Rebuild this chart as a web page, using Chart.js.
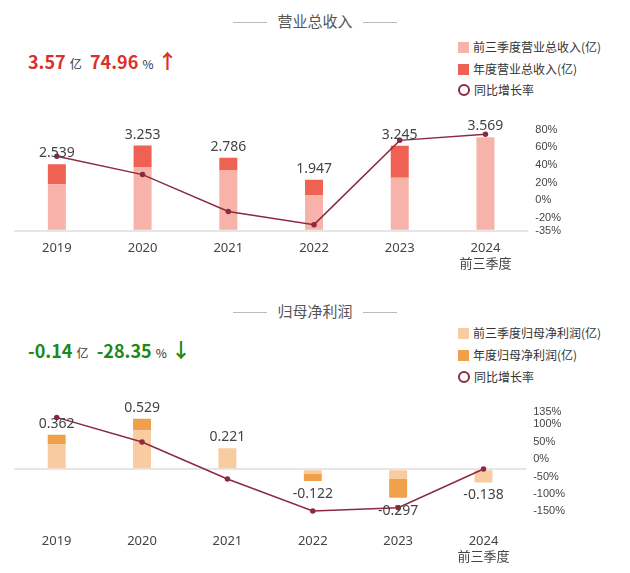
<!DOCTYPE html>
<html><head><meta charset="utf-8">
<script src="https://cdn.jsdelivr.net/npm/chart.js@4"></script>
<style>
body{margin:0;width:630px;height:573px;background:#fff;font-family:"Noto Sans CJK SC","Noto Sans",sans-serif;position:relative;overflow:hidden}
.t{position:absolute;white-space:nowrap}
.title{font-size:15px;color:#555;width:630px;text-align:center}
.title span{display:inline-block;width:34px;border-top:1px solid #bbb;vertical-align:middle;margin:0 10px}
.big{font-size:18px;font-weight:bold}
.sm{font-size:12px;font-weight:normal;color:#333}
.lg{font-size:12px;color:#333}
.lg i{display:inline-block;width:11px;height:11px;vertical-align:-1px;margin-right:4px}
.lg b{display:inline-block;width:8px;height:8px;border:2px solid #8b2a40;border-radius:50%;vertical-align:-1px;margin-right:4px}
.box{position:absolute;left:0;width:630px}
</style></head><body>
<div class="t title" style="top:10px"><span></span>营业总收入<span></span></div>
<div class="t big" style="left:28px;top:46px;color:#d9302c">3.57 <span class="sm">亿</span>&nbsp; 74.96 <span class="sm">%</span> <span style="font-size:20px">↑</span></div>
<div class="t lg" style="left:458px;top:38px"><i style="background:#f7b3aa"></i>前三季度营业总收入(亿)</div>
<div class="t lg" style="left:458px;top:60px"><i style="background:#ef6253"></i>年度营业总收入(亿)</div>
<div class="t lg" style="left:458px;top:81px"><b></b>同比增长率</div>

<div class="t title" style="top:300px"><span></span>归母净利润<span></span></div>
<div class="t big" style="left:28px;top:335px;color:#1a8a1a">-0.14 <span class="sm">亿</span>&nbsp; -28.35 <span class="sm">%</span> <span style="font-size:20px">↓</span></div>
<div class="t lg" style="left:458px;top:324px"><i style="background:#f9cba0"></i>前三季度归母净利润(亿)</div>
<div class="t lg" style="left:458px;top:346px"><i style="background:#f0a04b"></i>年度归母净利润(亿)</div>
<div class="t lg" style="left:458px;top:368px"><b></b>同比增长率</div>

<div class="box" style="top:100px;height:180px"><canvas id="rev"></canvas></div>
<div class="box" style="top:385px;height:188px"><canvas id="np"></canvas></div>
<script>
// 数据
const years = ['2019', '2020', '2021', '2022', '2023', ['2024', '前三季度']];
const revQ3 = [1.78, 2.44, 2.30, 1.37, 2.03, 3.569];
const revTotal = [2.539, 3.253, 2.786, 1.947, 3.245, null];
const revGrowth = [50, 29, -13, -28, 68, 74.96];
const npQ3 = [0.26, 0.41, 0.221, -0.05, -0.10, -0.138];
const npTotal = [0.362, 0.529, null, -0.122, -0.297, null];
const npGrowth = [120, 49, -57, -149, -140, -28.35];

// 年度部分 = 全年 - 前三季度
const rest = (tot, q3) => tot.map((v, i) => v === null ? null : +(v - q3[i]).toFixed(3));

const valueLabels = {
    id: 'valueLabels',
    afterDatasetsDraw(chart, args, opts) {
        const ctx = chart.ctx, y = chart.scales.y;
        ctx.save();
        ctx.font = '14px "Noto Sans", sans-serif';
        ctx.fillStyle = '#444';
        ctx.textAlign = 'center';
        opts.values.forEach((v, i) => {
            const x = chart.scales.x.getPixelForValue(i);
            if (v >= 0) { ctx.textBaseline = 'bottom'; ctx.fillText(v.toFixed(3), x, y.getPixelForValue(v) - 4); }
            else { ctx.textBaseline = 'top'; ctx.fillText(v.toFixed(3), x, y.getPixelForValue(v) + 6); }
        });
        ctx.restore();
    }
};

function makeChart(id, q3, tot, growth, cLight, cDark, yMin, yMax, gMin, gMax, gTicks, pad) {
    const shown = tot.map((v, i) => v === null ? q3[i] : v);
    return new Chart(document.getElementById(id), {
        data: {
            labels: years,
            datasets: [
                { type: 'line', data: growth, yAxisID: 'y1', borderColor: '#8b2a40', backgroundColor: '#8b2a40',
                  borderWidth: 1.5, pointRadius: 2, order: 0 },
                { type: 'bar', data: q3, backgroundColor: cLight, stack: 's', order: 1 },
                { type: 'bar', data: rest(tot, q3), backgroundColor: cDark, stack: 's', order: 1 },
            ],
        },
        options: {
            animation: false, maintainAspectRatio: false,
            layout: { padding: pad },
            datasets: { bar: { barPercentage: 0.21, categoryPercentage: 1 } },
            plugins: { legend: { display: false }, tooltip: { enabled: false }, valueLabels: { values: shown } },
            scales: {
                x: { stacked: true, grid: { display: false }, border: { display: false },
                     ticks: { color: '#444', font: { size: 13, family: '"Noto Sans", "Noto Sans CJK SC"' }, padding: 2 } },
                // 只画零线
                y: { stacked: true, min: yMin, max: yMax, border: { display: false },
                     ticks: { display: false },
                     grid: { drawTicks: false, lineWidth: 2, color: c => c.tick && c.tick.value === 0 ? '#e6e6e6' : 'rgba(0,0,0,0)' } },
                y1: { position: 'right', min: gMin, max: gMax, grid: { display: false, drawTicks: false }, border: { display: false },
                      afterBuildTicks: a => { a.ticks = gTicks.map(v => ({ value: v })); },
                      ticks: { color: '#444', font: { size: 11 }, padding: 7, autoSkip: false, callback: v => v + '%' } },
            },
        },
        plugins: [valueLabels],
    });
}

makeChart('rev', revQ3, revTotal, revGrowth, '#f7b3aa', '#ef6253', 0, 4.04, -35, 85.5,
          [-35, -20, 0, 20, 40, 60, 80], { left: 14, right: 62, top: 25, bottom: 6 });
makeChart('np', npQ3, npTotal, npGrowth, '#f9cba0', '#f0a04b', -0.57, 0.74, -186, 174,
          [-150, -100, -50, 0, 50, 100, 135], { left: 14, right: 58, top: 13, bottom: 6 });
</script>
</body></html>
